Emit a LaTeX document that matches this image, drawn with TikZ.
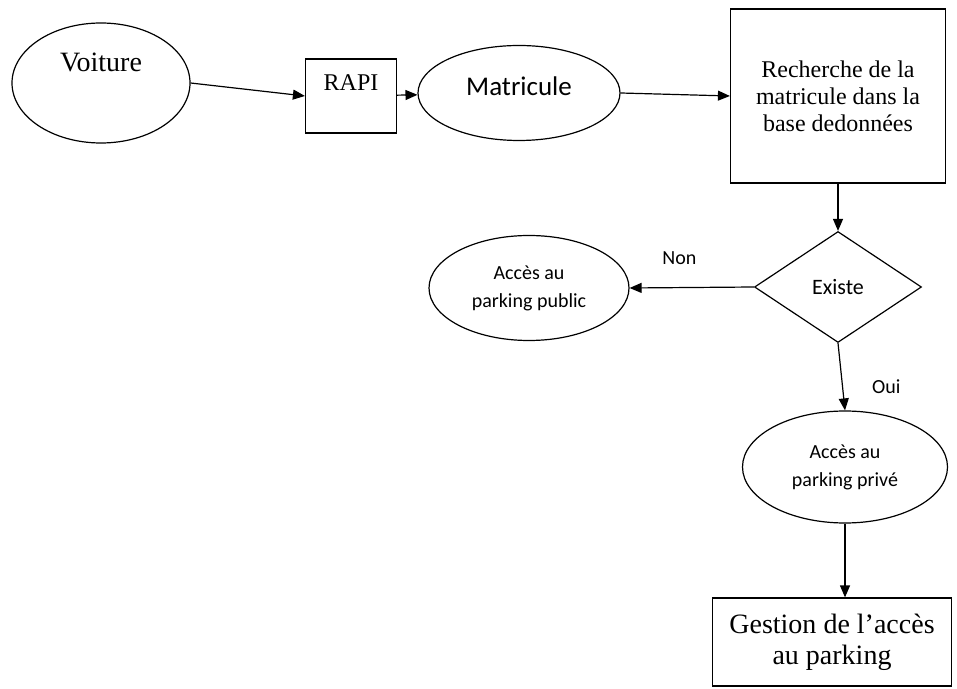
\documentclass[tikz,border=0pt]{standalone}
\usepackage{fontspec}
\setmainfont{Liberation Serif}
\newfontfamily\calibri{Carlito}
\usetikzlibrary{shapes.geometric,arrows.meta}

\begin{document}
\begin{tikzpicture}[
    x=1pt, y=1pt, line width=1.2pt,
    base/.style = {draw=black, inner sep=4pt, align=center},
    serifbox/.style = {base, rectangle, font=\fontsize{24}{27}\selectfont},
    oval/.style = {base, ellipse, font=\calibri\fontsize{20}{28}\selectfont},
    choice/.style = {base, diamond, font=\calibri\fontsize{22}{26}\selectfont},
    lbl/.style = {font=\calibri\fontsize{20}{24}\selectfont, inner sep=4pt},
    node distance=180pt,
    >={Triangle[length=12pt,width=10pt]}
]
  \useasboundingbox (0,0) rectangle (957,688);

  \node (voiture) [base, ellipse, minimum width=178pt, minimum height=120pt,
    font=\fontsize{28}{30}\selectfont, text height=19pt, text depth=42pt]
    at (101,605) {Voiture};
  \node (rapi) [serifbox, right of=voiture, xshift=70pt, yshift=-13pt,
    minimum width=91pt, minimum height=74pt, text height=16pt, text depth=26pt] {RAPI};
  \node (matricule) [oval, right of=rapi, xshift=-12pt, yshift=3pt,
    minimum width=202pt, minimum height=95pt, font=\calibri\fontsize{27}{30}\selectfont,
    text height=18pt, text depth=12pt] {Matricule};
  \node (recherche) [serifbox, right of=matricule, xshift=139pt, yshift=-3pt,
    minimum width=215pt, minimum height=174pt] {Recherche de la\\matricule dans la\\base dedonnées};
  \node (existe) [choice, below of=recherche, yshift=-11pt,
    minimum width=167pt, minimum height=111pt] {Existe};
  \node (public) [oval, left of=existe, xshift=-129pt, yshift=-1pt,
    minimum width=200pt, minimum height=105pt] {Accès au\\parking public};
  \node (prive) [oval, below of=existe, xshift=7pt,
    minimum width=205pt, minimum height=112pt] {Accès au\\parking privé};
  \node (gestion) [serifbox, below of=prive, xshift=-13pt, yshift=5pt,
    minimum width=239pt, minimum height=88pt, font=\fontsize{28}{31}\selectfont] {Gestion de l’accès\\au parking};

  \draw[->] (voiture.east) -- (rapi.west);
  \draw[->] (rapi) -- (matricule);
  \draw[->] (matricule.east) -- (recherche.west);
  \draw[->] (recherche) -- (existe);
  \draw[->] (existe.west) -- node[lbl, pos=0.6, above=18pt] (non) {Non} (public.east);
  \draw[->] (existe.south) -- node[lbl, pos=0.65, right=25pt] (oui) {Oui} (prive.north);
  \draw[->] (prive.south) -- (prive.south |- gestion.north);

\end{tikzpicture}
\end{document}
